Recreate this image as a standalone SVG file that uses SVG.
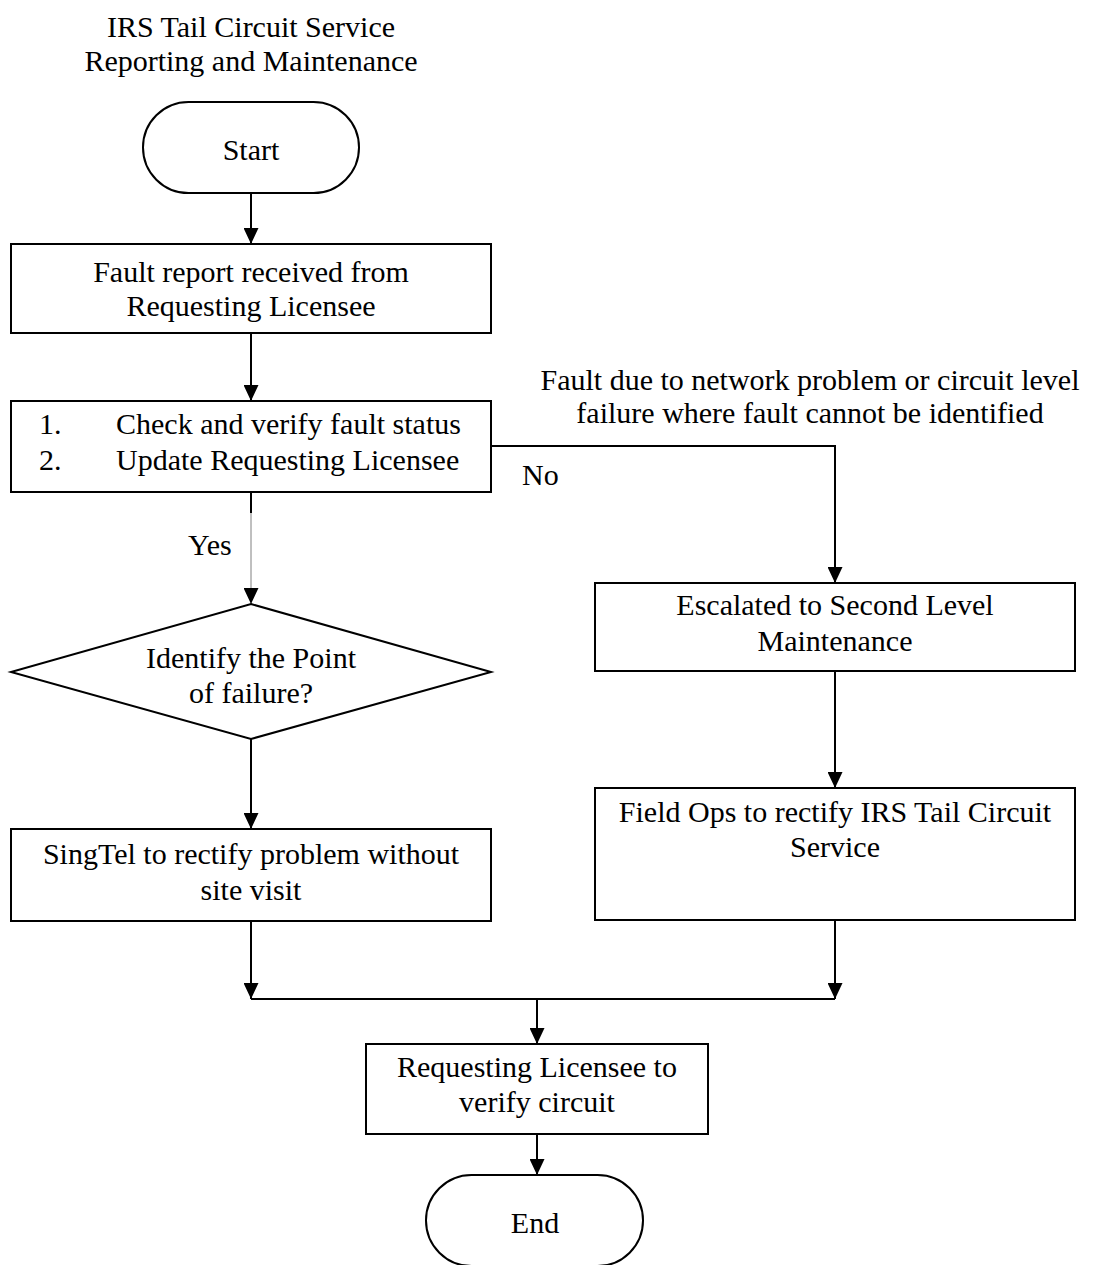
<svg xmlns="http://www.w3.org/2000/svg" width="1093" height="1265" viewBox="0 0 1093 1265">
<defs>
<marker id="ah" markerUnits="userSpaceOnUse" markerWidth="16" markerHeight="15" refX="16" refY="7.5" orient="auto">
<path d="M0,0 L16,7.5 L0,15 z" fill="#000"/>
</marker>
<style>
text{font-family:"Liberation Serif","Times New Roman",serif;font-size:30px;fill:#000}
.c{text-anchor:middle}
.box{fill:#fff;stroke:#000;stroke-width:2}
.ln{fill:none;stroke:#000;stroke-width:2}
.thin{fill:none;stroke:#808080;stroke-width:1}
</style>
</defs>
<rect width="1093" height="1265" fill="#fff"/>
<g id="title">
<text class="c" x="251" y="37">IRS Tail Circuit Service</text>
<text class="c" x="251" y="71">Reporting and Maintenance</text>
</g>
<g id="connectors">
<path class="ln" d="M251,193 V244" marker-end="url(#ah)"/>
<path class="ln" d="M251,333 V401" marker-end="url(#ah)"/>
<path class="ln" d="M251,492 V513"/>
<path class="thin" d="M251,513 V604" marker-end="url(#ah)"/>
<path class="ln" d="M491,446 H835 V583" marker-end="url(#ah)"/>
<path class="ln" d="M835,671 V788" marker-end="url(#ah)"/>
<path class="ln" d="M251,739 V829" marker-end="url(#ah)"/>
<path class="ln" d="M251,921 V999" marker-end="url(#ah)"/>
<path class="ln" d="M835,920 V999" marker-end="url(#ah)"/>
<path class="ln" d="M251,999 H835"/>
<path class="ln" d="M537,999 V1044" marker-end="url(#ah)"/>
<path class="ln" d="M537,1134 V1175" marker-end="url(#ah)"/>
<text x="522" y="485">No</text>
<text x="188" y="555">Yes</text>
<text class="c" x="810" y="390">Fault due to network problem or circuit level</text>
<text class="c" x="810" y="423">failure where fault cannot be identified</text>
</g>
<g id="start">
<rect class="box" x="143" y="102" width="216" height="91" rx="45.5"/>
<text class="c" x="251" y="160">Start</text>
</g>
<g id="fault-report">
<rect class="box" x="11" y="244" width="480" height="89"/>
<text class="c" x="251" y="282">Fault report received from</text>
<text class="c" x="251" y="316">Requesting Licensee</text>
</g>
<g id="check">
<rect class="box" x="11" y="401" width="480" height="91"/>
<text x="39" y="434">1.</text>
<text x="116" y="434">Check and verify fault status</text>
<text x="39" y="470">2.</text>
<text x="116" y="470">Update Requesting Licensee</text>
</g>
<g id="identify">
<polygon class="box" points="251,604 491,672 251,739 11,672"/>
<text class="c" x="251" y="668">Identify the Point</text>
<text class="c" x="251" y="703">of failure?</text>
</g>
<g id="singtel">
<rect class="box" x="11" y="829" width="480" height="92"/>
<text class="c" x="251" y="864">SingTel to rectify problem without</text>
<text class="c" x="251" y="900">site visit</text>
</g>
<g id="escalated">
<rect class="box" x="595" y="583" width="480" height="88"/>
<text class="c" x="835" y="615">Escalated to Second Level</text>
<text class="c" x="835" y="651">Maintenance</text>
</g>
<g id="field-ops">
<rect class="box" x="595" y="788" width="480" height="132"/>
<text class="c" x="835" y="822">Field Ops to rectify IRS Tail Circuit</text>
<text class="c" x="835" y="857">Service</text>
</g>
<g id="verify">
<rect class="box" x="366" y="1044" width="342" height="90"/>
<text class="c" x="537" y="1077">Requesting Licensee to</text>
<text class="c" x="537" y="1112">verify circuit</text>
</g>
<g id="end">
<rect class="box" x="426" y="1175" width="217" height="91" rx="45.5"/>
<text class="c" x="535" y="1233">End</text>
</g>
</svg>
